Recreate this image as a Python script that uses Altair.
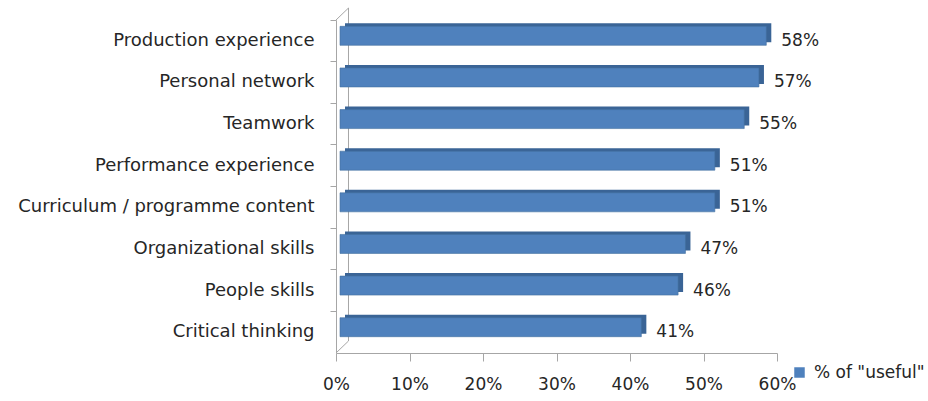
import altair as alt
import pandas as pd

categories = [
    "Production experience",
    "Personal network",
    "Teamwork",
    "Performance experience",
    "Curriculum / programme content",
    "Organizational skills",
    "People skills",
    "Critical thinking",
]
values = [58, 57, 55, 51, 51, 47, 46, 41]
series_name = '% of "useful"'
x_ticks = [0, 10, 20, 30, 40, 50, 60]

df = pd.DataFrame({"category": categories, "value": values,
                   "series": [series_name] * len(categories)})
df["label"] = df["value"].astype(str) + "%"

W, H = 441, 333
FONT = "DejaVu Sans"
GRAY = "#A6A6A6"
TXT = "#262626"

x_enc = alt.X("value:Q", scale=alt.Scale(domain=[0, 60], nice=False, zero=True),
              axis=alt.Axis(title=None, values=x_ticks, labelExpr="datum.value + '%'",
                            grid=False, tickSize=8, tickColor=GRAY, domainColor=GRAY,
                            labelFont=FONT, labelFontSize=17, labelColor=TXT,
                            labelPadding=15, labelFlush=False))
y_enc = alt.Y("category:N", sort=categories,
              scale=alt.Scale(paddingInner=0, paddingOuter=0),
              axis=alt.Axis(title=None, bandPosition=0, tickSize=6, tickColor=GRAY,
                            domainColor=GRAY, labelFont=FONT, labelFontSize=18,
                            labelColor=TXT, labelPadding=16, labelLimit=0))

base = alt.Chart(df)

depth = base.mark_bar(size=19, xOffset=9, x2Offset=9, yOffset=-8, color="#3A6496").encode(
    x=x_enc, y=y_enc)

front = base.mark_bar(size=19, xOffset=4, x2Offset=4, yOffset=-5,
                      stroke="#43719F", strokeWidth=0.6).encode(
    x=x_enc, y=y_enc,
    color=alt.Color("series:N", scale=alt.Scale(range=["#4F81BD"]),
                    legend=alt.Legend(title=None, orient="none", legendX=455, legendY=344,
                                      symbolType="square", symbolSize=110,
                                      symbolStrokeWidth=0, labelFont=FONT,
                                      labelFontSize=17, labelColor=TXT, padding=0,
                                      labelOffset=6)))

labels = base.mark_text(align="left", baseline="middle", dx=19, font=FONT,
                        fontSize=17, color=TXT).encode(
    x=x_enc, y=y_enc, text="label:N")

# 3-D back wall of the plot (decoration), placed in data space
WALL = 1.7
one = alt.Chart(pd.DataFrame({"k": [0]}))
wall_v = one.mark_rule(color=GRAY, strokeWidth=1).encode(
    x=alt.datum(WALL), y=alt.value(-12), y2=alt.value(321))
wall_top = one.mark_rule(color=GRAY, strokeWidth=1).encode(
    x=alt.datum(0), x2=alt.datum(WALL), y=alt.value(0), y2=alt.value(-12))
wall_bot = one.mark_rule(color=GRAY, strokeWidth=1).encode(
    x=alt.datum(0), x2=alt.datum(WALL), y=alt.value(333), y2=alt.value(321))

chart = alt.layer(wall_v, wall_top, wall_bot, depth, front, labels).properties(
    width=W, height=H,
    background="white",
    autosize=alt.AutoSizeParams(type="none"),
    padding={"left": 336, "top": 20, "right": 151, "bottom": 48},
).configure_view(strokeWidth=0, stroke="transparent")

chart.save("out.html", embed_options={"renderer": "svg", "actions": False})
